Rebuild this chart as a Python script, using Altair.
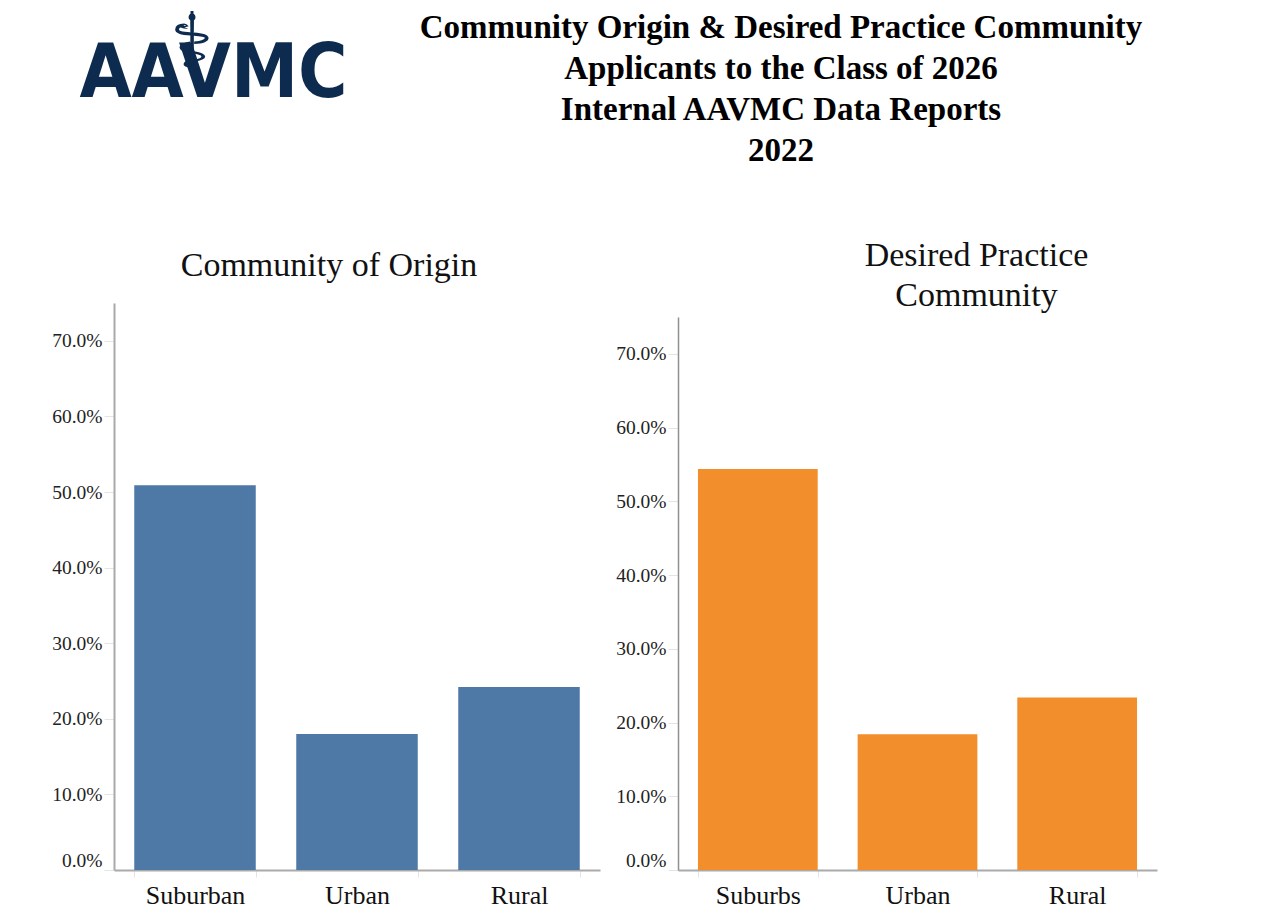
import altair as alt
import pandas as pd

# ---- data ----
origin_categories = ["Suburban", "Urban", "Rural"]
origin_values = [50.9, 18.0, 24.2]

desired_categories = ["Suburbs", "Urban", "Rural"]
desired_values = [54.4, 18.4, 23.4]

y_ticks = [0, 10, 20, 30, 40, 50, 60, 70]

main_title_lines = [
    "Community Origin & Desired Practice Community",
    "Applicants to the Class of 2026",
    "Internal AAVMC Data Reports",
    "2022",
]
left_title_lines = ["Community of Origin"]
right_title_lines = ["Desired Practice", "Community"]
logo_text = ["AAVMC"]
logo_symbol = ["\u2695"]

SERIF = "Liberation Serif"
NAVY = "#0d2b4e"
BLUE = "#4e79a7"
ORANGE = "#f28e2b"


def y_axis(domain_color="#aaaaaa", domain_width=2):
    return alt.Axis(
        values=y_ticks,
        labelExpr="format(datum.value, '.1f') + '%'",
        labelFont=SERIF,
        labelFontSize=19.5,
        labelColor="#222222",
        labelFlush=True,
        tickColor="#e4e4e4",
        tickSize=10,
        labelPadding=2,
        domainColor=domain_color,
        domainWidth=domain_width,
        grid=False,
        title=None,
    )


def x_axis():
    return alt.Axis(
        labelFont=SERIF,
        labelFontSize=26,
        labelColor="#111111",
        labelAngle=0,
        tickBand="extent",
        tickColor="#e4e4e4",
        tickSize=7,
        labelPadding=5,
        domainColor="#aaaaaa",
        domainWidth=2,
        title=None,
    )


def text_layer(lines, **mark_kw):
    df = pd.DataFrame({"t": ["\n".join(lines)]})
    x = mark_kw.pop("x")
    y = mark_kw.pop("y")
    return (
        alt.Chart(df)
        .mark_text(lineBreak="\n", **mark_kw)
        .encode(text="t:N", x=alt.value(x), y=alt.value(y))
    )


# ---- left panel ----
origin_df = pd.DataFrame({"category": origin_categories, "value": origin_values})
left_bars = (
    alt.Chart(origin_df)
    .mark_bar(color=BLUE)
    .encode(
        x=alt.X(
            "category:N",
            sort=origin_categories,
            scale=alt.Scale(paddingInner=0.25, paddingOuter=0.125),
            axis=x_axis(),
        ),
        y=alt.Y("value:Q", scale=alt.Scale(domain=[0, 75]), axis=y_axis()),
    )
)

anchor = (
    alt.Chart(pd.DataFrame({"a": [0]}))
    .mark_rule(strokeOpacity=0, strokeWidth=0)
    .encode(x=alt.value(-106), x2=alt.value(-106), y=alt.value(-295), y2=alt.value(-294))
)

logo = text_layer(
    logo_text, x=99.5, y=-206, align="center", baseline="alphabetic",
    font="'DejaVu Sans Condensed', 'DejaVu Sans', sans-serif",
    fontWeight="bold", fontSize=75, color=NAVY,
)
staff = (
    alt.Chart(pd.DataFrame({"a": [0]}))
    .mark_rule(color=NAVY, strokeWidth=3)
    .encode(x=alt.value(78), y=alt.value(-292), y2=alt.value(-238))
)
caduceus = text_layer(
    logo_symbol, x=78, y=-231, align="center", baseline="alphabetic",
    font="DejaVu Sans", fontSize=80, color=NAVY,
)
main_title = text_layer(
    main_title_lines, x=667, y=-265, align="center", baseline="alphabetic",
    font=SERIF, fontWeight="bold", fontSize=33, lineHeight=41, color="#000000",
)
left_title = text_layer(
    left_title_lines, x=215, y=-27, align="center", baseline="alphabetic",
    font=SERIF, fontSize=34, color="#111111",
)

left = alt.layer(
    left_bars, anchor, logo, staff, caduceus, main_title, left_title
).properties(width=486, height=567)

# ---- right panel ----
desired_df = pd.DataFrame({"category": desired_categories, "value": desired_values})
right_bars = (
    alt.Chart(desired_df)
    .mark_bar(color=ORANGE)
    .encode(
        x=alt.X(
            "category:N",
            sort=desired_categories,
            scale=alt.Scale(paddingInner=0.25, paddingOuter=0.125),
            axis=x_axis(),
        ),
        y=alt.Y(
            "value:Q",
            scale=alt.Scale(domain=[0, 75], range=[567, 14]),
            axis=y_axis("#909090", 1.5),
        ),
    )
)
right_title = text_layer(
    right_title_lines, x=298.5, y=-37, align="center", baseline="alphabetic",
    font=SERIF, fontSize=34, lineHeight=39.5, color="#111111",
)
right = alt.layer(right_bars, right_title).properties(width=479, height=567)

chart = (
    alt.hconcat(left, right, spacing=78, bounds="flush")
    .properties(padding={"left": 0, "top": 0, "right": 5, "bottom": 5}, background="white")
    .configure_view(stroke=None)
)

chart.save("out.html", embed_options={"renderer": "svg", "actions": False})
